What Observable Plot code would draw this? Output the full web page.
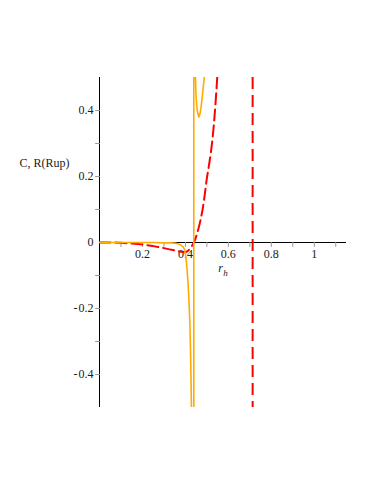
<!DOCTYPE html>
<html>
<head>
<meta charset="utf-8">
<script src="https://cdn.jsdelivr.net/npm/d3@7"></script>
<script src="https://cdn.jsdelivr.net/npm/@observablehq/plot@0.6"></script>
<style>
  html, body { margin: 0; padding: 0; background: #fff; }
  #chart svg { display: block; font-family: 'Liberation Serif', 'Times New Roman', serif; }
</style>
</head>
<body>
<div id="chart"></div>
<script>
// ---- data ----
const redX = [0, 0.05, 0.1, 0.15, 0.2, 0.25, 0.3, 0.35, 0.37, 0.38, 0.39, 0.40, 0.41, 0.42, 0.43, 0.44, 0.45, 0.46, 0.47, 0.48, 0.49, 0.50, 0.51, 0.52, 0.53, 0.54, 0.55];
const redY = [0, 0, -0.001, -0.003, -0.006, -0.011, -0.017, -0.024, -0.027, -0.028, -0.029, -0.029, -0.026, -0.02, -0.011, 0.001, 0.018, 0.040, 0.067, 0.10, 0.145, 0.195, 0.235, 0.28, 0.34, 0.42, 0.52];

const orangeX = [0, 0.05, 0.1, 0.15, 0.2, 0.25, 0.3, 0.33, 0.35, 0.36, 0.37, 0.38, 0.39, 0.395, 0.40, 0.404, 0.408, 0.412, 0.415, 0.418, 0.421, 0.424, 0.426, 0.428, 0.431, 0.434, 0.437, 0.439, 0.439, 0.442, 0.444, 0.446, 0.449, 0.453, 0.458, 0.463, 0.468, 0.473, 0.478, 0.483, 0.488, 0.495];
const orangeY = [0, 0, 0, 0, 0, 0, -0.001, -0.001, -0.002, -0.003, -0.005, -0.008, -0.014, -0.02, -0.034, -0.055, -0.085, -0.12, -0.155, -0.2, -0.25, -0.337, -0.41, -0.5, -0.8, -1.5, -3, -3, 3, 3, 0.8, 0.52, 0.45, 0.41, 0.39, 0.38, 0.39, 0.41, 0.44, 0.47, 0.5, 0.56];

const asymptoteX = [0.713];

const xLabelTicks = [0.2, 0.4, 0.6, 0.8, 1];
const xMinorTicks = [0.1, 0.2, 0.3, 0.4, 0.5, 0.6, 0.7, 0.8, 0.9, 1.0, 1.1];
const yLabelTicks = [-0.4, -0.2, 0, 0.2, 0.4];
const yMinorTicks = [-0.4, -0.3, -0.2, -0.1, 0.1, 0.2, 0.3, 0.4];

const yTitle = "C, R(Rup)";
const xTitleMain = "r";
const xTitleSub = "h";

// ---- build tables ----
const red = redX.map((x, i) => ({x, y: redY[i]}));
const orange = orangeX.map((x, i) => ({x, y: orangeY[i]}));

const tickShape = { draw(ctx, l) { ctx.moveTo(0, 0); ctx.lineTo(0, -l); } };
const fmt = d => d < 0 ? "-\u200A" + String(-d) : String(d);

const font = "'Liberation Serif', 'Times New Roman', serif";
const RED = "#ff0000";
const ORANGE = "#ffab00";
const TXT = "#1a1a1a";

const chart = Plot.plot({
  width: 374,
  height: 484,
  marginLeft: 99,
  marginRight: 28,
  marginTop: 77,
  marginBottom: 77,
  x: {domain: [0, 1.15], axis: null},
  y: {domain: [-0.5, 0.5], axis: null},
  style: {fontFamily: font, fontSize: "12px", background: "#fff", color: "#000"},
  marks: [
    // axis lines
    Plot.ruleY([0], {stroke: "#000", strokeWidth: 1}),
    Plot.ruleX([0], {stroke: "#000", strokeWidth: 1}),
    // ticks
    Plot.vector(xMinorTicks, {x: d => d, y: 0, length: 4, rotate: 180, anchor: "start", shape: tickShape, stroke: "#999", strokeWidth: 1}),
    Plot.vector(yMinorTicks, {x: 0, y: d => d, length: 4, rotate: 270, anchor: "start", shape: tickShape, stroke: "#999", strokeWidth: 1}),
    // tick labels
    Plot.text(xLabelTicks, {x: d => d, y: 0, dy: 12, text: d => fmt(d), fill: TXT, fontSize: 12, fontFamily: font}),
    Plot.text(yLabelTicks, {x: 0, y: d => d, dx: -6, textAnchor: "end", text: d => fmt(d), fill: TXT, fontSize: 12, fontFamily: font}),
    // axis titles
    Plot.text([yTitle], {frameAnchor: "left", textAnchor: "middle", dx: -55, dy: -79, text: d => d, fill: TXT, fontSize: 12, fontFamily: font}),
    Plot.text([xTitleMain], {frameAnchor: "middle", dx: -2.5, dy: 26, text: d => d, fill: TXT, fontSize: 12, fontStyle: "italic", fontFamily: font}),
    Plot.text([xTitleSub], {frameAnchor: "middle", dx: 2.5, dy: 31, text: d => d, fill: TXT, fontSize: 9, fontStyle: "italic", fontFamily: font}),
    // curves
    Plot.ruleX(asymptoteX, {stroke: RED, strokeWidth: 2, strokeDasharray: "12,6"}),
    Plot.line(red, {x: "x", y: "y", stroke: RED, strokeWidth: 2, strokeDasharray: "11,5", curve: "catmull-rom", clip: true}),
    Plot.line(orange, {x: "x", y: "y", stroke: ORANGE, strokeWidth: 1.6, clip: true})
  ]
});
document.getElementById("chart").appendChild(chart);
</script>
</body>
</html>
